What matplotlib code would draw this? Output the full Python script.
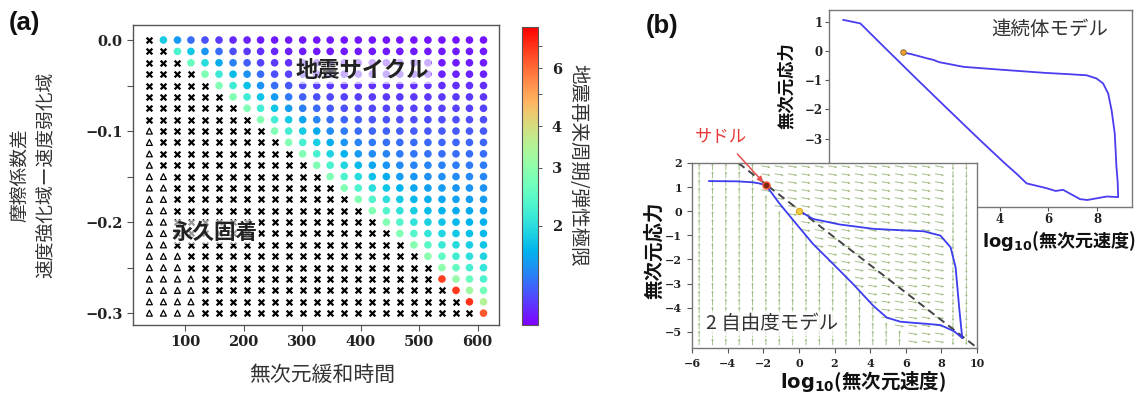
import numpy as np
import matplotlib
matplotlib.use('Agg')
import matplotlib.pyplot as plt
from matplotlib.colors import LogNorm
from matplotlib.ticker import FixedLocator, NullFormatter

plt.rcParams['font.family'] = ['Noto Sans CJK JP', 'DejaVu Sans']
plt.rcParams['axes.unicode_minus'] = True

# ---------------- panel (a) data ----------------
relax_time = [39, 63, 87, 110, 134, 158, 182, 206, 229, 253, 277, 301, 325,
              348, 372, 396, 420, 444, 467, 491, 515, 539, 563, 586, 610]
friction_diff = [0.0, -0.0125, -0.025, -0.0375, -0.05, -0.0625, -0.075, -0.0875,
                 -0.1, -0.1125, -0.125, -0.1375, -0.15, -0.1625, -0.175, -0.1875,
                 -0.2, -0.2125, -0.225, -0.2375, -0.25, -0.2625, -0.275, -0.2875, -0.3]
# per row: number of triangle columns (from left), last column index of permanent-stick (x)
n_triangles = [0, 0, 0, 0, 0, 0, 0, 0, 1, 1, 1, 1, 2, 2, 2, 2, 2, 2, 2, 3, 3, 4, 4, 4, 4]
stick_last_col = [0, 1, 2, 3, 4, 5, 6, 7, 8, 9, 10, 11, 12, 13, 14, 15, 16, 17, 18, 19,
                  20, 20, 21, 22, 23]
# recurrence interval / elastic limit for circles (from first circle column to the right edge)
period_rows = [
    [1.85, 1.54, 1.35, 1.24, 1.17, 1.12, 1.1, 1.08, 1.07, 1.07, 1.06, 1.06, 1.06, 1.06, 1.06, 1.06, 1.05, 1.05, 1.05, 1.05, 1.05, 1.05, 1.05, 1.05],
    [2.3, 1.82, 1.52, 1.34, 1.24, 1.17, 1.13, 1.11, 1.09, 1.08, 1.07, 1.07, 1.07, 1.07, 1.07, 1.07, 1.07, 1.07, 1.07, 1.07, 1.07, 1.07, 1.07],
    [2.6, 2.0, 1.64, 1.42, 1.29, 1.2, 1.16, 1.13, 1.11, 1.1, 1.09, 1.08, 1.08, 1.08, 1.08, 1.08, 1.08, 1.08, 1.08, 1.08, 1.08, 1.08],
    [2.85, 2.16, 1.74, 1.49, 1.34, 1.24, 1.19, 1.15, 1.13, 1.12, 1.11, 1.1, 1.1, 1.1, 1.1, 1.1, 1.1, 1.1, 1.1, 1.1, 1.1],
    [2.85, 2.17, 1.76, 1.51, 1.36, 1.27, 1.22, 1.18, 1.16, 1.15, 1.14, 1.13, 1.13, 1.13, 1.13, 1.13, 1.13, 1.13, 1.13, 1.13],
    [2.85, 2.19, 1.78, 1.54, 1.39, 1.3, 1.24, 1.21, 1.19, 1.18, 1.17, 1.16, 1.16, 1.16, 1.16, 1.16, 1.16, 1.16, 1.16],
    [2.85, 2.2, 1.8, 1.56, 1.41, 1.33, 1.27, 1.24, 1.22, 1.21, 1.2, 1.19, 1.19, 1.19, 1.19, 1.19, 1.19, 1.19],
    [2.85, 2.21, 1.83, 1.59, 1.45, 1.36, 1.31, 1.28, 1.26, 1.25, 1.24, 1.23, 1.23, 1.23, 1.23, 1.23, 1.23],
    [2.85, 2.23, 1.85, 1.62, 1.48, 1.4, 1.35, 1.32, 1.3, 1.29, 1.28, 1.27, 1.27, 1.27, 1.27, 1.27],
    [2.85, 2.24, 1.88, 1.65, 1.52, 1.44, 1.39, 1.36, 1.34, 1.33, 1.32, 1.31, 1.31, 1.31, 1.31],
    [2.85, 2.26, 1.9, 1.68, 1.55, 1.47, 1.43, 1.4, 1.38, 1.37, 1.36, 1.35, 1.35, 1.35],
    [2.85, 2.28, 1.93, 1.72, 1.6, 1.52, 1.47, 1.44, 1.43, 1.42, 1.41, 1.4, 1.4],
    [2.85, 2.3, 1.97, 1.76, 1.64, 1.56, 1.52, 1.49, 1.48, 1.47, 1.46, 1.45],
    [2.85, 2.32, 2.0, 1.8, 1.68, 1.61, 1.57, 1.54, 1.52, 1.51, 1.5],
    [2.85, 2.34, 2.02, 1.83, 1.72, 1.65, 1.61, 1.58, 1.56, 1.55],
    [2.85, 2.35, 2.05, 1.86, 1.75, 1.68, 1.64, 1.62, 1.6],
    [2.85, 2.37, 2.07, 1.89, 1.79, 1.72, 1.68, 1.66],
    [2.85, 2.38, 2.1, 1.93, 1.82, 1.76, 1.72],
    [2.9, 2.43, 2.14, 1.97, 1.86, 1.8],
    [2.95, 2.48, 2.2, 2.02, 1.91],
    [3.0, 2.53, 2.25, 2.08],
    [6.8, 3.1, 2.6, 2.3],
    [6.9, 3.2, 2.7],
    [7.0, 3.5],
    [6.3],
]
cbar_ticks = [2, 3, 4, 6]

# ---------------- panel (b) data ----------------
# continuum model trajectory (log10 velocity, stress)
cont_logv = [-2.45, -1.75, -0.94, 0.5, 1.8, 3.2, 4.2, 4.7, 5.1, 5.9, 6.3, 6.6, 7.3, 7.6,
             8.0, 8.4, 8.87, 8.85, 8.8, 8.73, 8.6, 8.46, 8.25, 7.98, 7.57, 6.8, 5.9, 3.9,
             2.5, 1.5, 1.25, 1.0, 0.33, 0.06]
cont_stress = [1.07, 0.95, 0.28, -0.9, -1.95, -3.07, -3.85, -4.22, -4.54, -4.7, -4.8,
               -4.76, -5.08, -5.11, -5.05, -4.99, -5.01, -4.5, -3.98, -2.83, -2.03, -1.46,
               -1.11, -0.94, -0.83, -0.79, -0.75, -0.63, -0.54, -0.38, -0.3, -0.25, -0.1, -0.06]
cont_start = (0.0, -0.02)

# 2-DOF model: branch through the saddle and branch from the fixed point
dofa_logv = [-5.04, -3.5, -2.6, -2.2, -1.84, -1.08, -0.14, 0.8, 1.93, 3.06, 4.19, 4.94,
             5.7, 6.5, 7.2, 7.95, 8.7, 9.17]
dofa_stress = [1.25, 1.24, 1.2, 1.15, 1.07, 0.31, -0.53, -1.36, -2.19, -3.03, -3.93, -4.41,
               -4.58, -4.63, -4.67, -4.72, -4.97, -5.25]
dofb_logv = [0.05, 0.8, 2.3, 4.19, 5.5, 7.0, 7.95, 8.52, 8.8, 9.0, 9.17]
dofb_stress = [0.0, -0.32, -0.55, -0.73, -0.78, -0.83, -1.01, -1.5, -2.33, -4.0, -5.25]
saddle = (-1.84, 1.07)
fixed_point = (0.02, 0.02)
steady_logv = [-3.4, 9.9]
steady_stress = [2.0, -5.6]

# direction field grid and the log-velocity where arrows turn from vertical to horizontal
field_logv = [-5.6, -4.85, -4.1, -3.35, -2.6, -1.85, -1.1, -0.35, 0.4, 1.15, 1.9, 2.65,
              3.4, 4.15, 4.9, 5.65, 6.4, 7.15, 7.9, 8.65, 9.4]
field_stress = [1.85, 1.52, 1.19, 0.86, 0.53, 0.2, -0.13, -0.46, -0.79, -1.12, -1.45,
                -1.78, -2.11, -2.44, -2.77, -3.1, -3.43, -3.76, -4.09, -4.42, -4.75,
                -5.08, -5.41]
switch_logv = [-1.9, -1.9, -1.9, -1.9, -1.62, -1.18, -0.75, -0.32, 0.12, 0.55, 0.99,
               1.42, 1.86, 2.29, 2.72, 3.16, 3.59, 4.03, 4.46, 4.89, 5.33, 5.76, 6.2]
right_vertical_from = 8.3

# ---------------- figure ----------------
W, H = 1140, 396
fig = plt.figure(figsize=(W / 100, H / 100), dpi=100)


def fx(px):
    return px / W


def fy(py):
    return 1 - py / H


def box(l, t, r, b):
    return [fx(l), fy(b), (r - l) / W, (b - t) / H]


GREY = '#555555'
TXT = '#333333'
tickfont = dict(fontfamily='DejaVu Serif', fontweight='bold')

# ---------- (a) ----------
ax = fig.add_axes(box(133, 25, 499, 325))
xs_c, ys_c, vs_c = [], [], []
xs_x, ys_x, xs_t, ys_t = [], [], [], []
for i, y in enumerate(friction_diff):
    vals = period_rows[i]
    assert len(vals) == len(relax_time) - 1 - stick_last_col[i], i
    for j, x in enumerate(relax_time):
        if j < n_triangles[i]:
            xs_t.append(x); ys_t.append(y)
        elif j <= stick_last_col[i]:
            xs_x.append(x); ys_x.append(y)
        else:
            xs_c.append(x); ys_c.append(y); vs_c.append(vals[j - stick_last_col[i] - 1])

norm = LogNorm(vmin=1.0, vmax=8.0)
sc = ax.scatter(xs_c, ys_c, c=vs_c, cmap='rainbow', norm=norm, s=30, edgecolors='none')
ax.scatter(xs_x, ys_x, marker='x', c='black', s=17, linewidths=1.6)
ax.scatter(xs_t, ys_t, marker='^', facecolors='none', edgecolors='black', s=18, linewidths=0.9)
ax.set_xlim(11, 636.5)
ax.set_ylim(-0.313, 0.0165)
ax.set_xticks([100, 200, 300, 400, 500, 600], ['100', '200', '300', '400', '500', '600'],
              fontsize=10.5, **tickfont)
ax.set_yticks([0.0, -0.1, -0.2, -0.3], ['0.0', '\u22120.1', '\u22120.2', '\u22120.3'],
              fontsize=10.5, **tickfont)
ax.yaxis.set_minor_locator(FixedLocator([-0.05, -0.15, -0.25]))
ax.tick_params(which='both', direction='out', color=GREY, length=4, width=0.8, labelcolor='#222222')
for s in ax.spines.values():
    s.set_color(GREY)
    s.set_linewidth(1.0)

ax.text(402, -0.033, '地震サイクル', fontsize=16, fontweight='bold', color='#222222',
        ha='center', va='center',
        bbox=dict(facecolor='white', alpha=0.65, edgecolor='none', pad=2))
ax.text(151, -0.211, '永久固着', fontsize=15.5, fontweight='bold', color='#222222',
        ha='center', va='center',
        bbox=dict(facecolor='white', alpha=0.6, edgecolor='none', pad=1))

cax = fig.add_axes(box(522, 27, 538, 325))
cb = fig.colorbar(sc, cax=cax)
cb.set_ticks(cbar_ticks)
cb.set_ticklabels([str(t) for t in cbar_ticks])
cb.ax.yaxis.set_minor_locator(FixedLocator([5, 7]))
cb.ax.yaxis.set_minor_formatter(NullFormatter())
for lab in cb.ax.get_yticklabels():
    lab.set_fontfamily('DejaVu Serif'); lab.set_fontweight('bold'); lab.set_fontsize(10.5)
cb.ax.tick_params(which='both', color=GREY, length=3, width=0.7, pad=7, labelcolor='#222222')
cb.outline.set_edgecolor(GREY)
cb.outline.set_linewidth(0.8)

fig.text(fx(33), fy(175), '摩擦係数差\n速度強化域ー速度弱化域', rotation=90, fontsize=13.5,
         color=TXT, ha='center', va='center', linespacing=1.25, multialignment='center')
fig.text(fx(322), fy(375), '無次元緩和時間', fontsize=15, color=TXT, ha='center', va='center')
fig.text(fx(578), fy(165), '地震再来周期/弾性極限', rotation=270, fontsize=14, color=TXT,
         ha='center', va='center')
fig.text(fx(24), fy(23), '(a)', fontsize=18.5, fontweight='bold', color='#111111',
         family=['Liberation Sans', 'DejaVu Sans'], ha='center', va='center')
fig.text(fx(662), fy(26), '(b)', fontsize=18.5, fontweight='bold', color='#111111',
         family=['Liberation Sans', 'DejaVu Sans'], ha='center', va='center')

# ---------- (b) top: continuum model ----------
axt = fig.add_axes(box(829, 10, 1132, 207))
axt.plot(cont_logv, cont_stress, color='#4a3cf0', lw=1.3)
axt.plot(*cont_start, 'o', ms=4, mfc='#f0a030', mec='#806020', mew=0.6)
axt.set_xlim(-3.04, 9.44)
axt.set_ylim(-5.35, 1.41)
axt.set_xticks([4, 6, 8], ['4', '6', '8'], fontsize=8.5, **tickfont)
axt.set_yticks([1, 0, -1, -2, -3], ['1', '0', '\u22121', '\u22122', '\u22123'],
               fontsize=8.5, **tickfont)
axt.tick_params(direction='out', color=GREY, length=3, width=0.8, pad=1.5, labelcolor='#222222')
for s in axt.spines.values():
    s.set_color('#777777')
    s.set_linewidth(1.0)
axt.text(0.73, 0.9, '連続体モデル', transform=axt.transAxes, fontsize=14, color=TXT,
         ha='center', va='center')
fig.text(fx(787), fy(86), '無次元応力', rotation=90, fontsize=12.5, fontweight='bold',
         color='#111111', ha='center', va='center')
fig.text(fx(1059), fy(241), r'$\mathbf{log_{10}}$(無次元速度)', fontsize=13, fontweight='bold',
         color='#111111', ha='center', va='center')

# ---------- (b) bottom: 2-DOF model ----------
axb = fig.add_axes(box(692, 163, 977, 348))
axb.set_zorder(3)
axb.set_facecolor('white')
axb.set_xlim(-6, 10)
axb.set_ylim(-5.67, 2)

FX, FY = np.meshgrid(field_logv, field_stress)
U = np.zeros_like(FX)
V = np.zeros_like(FY)
for r in range(len(field_stress)):
    for c in range(len(field_logv)):
        xv = field_logv[c]
        if xv >= right_vertical_from:
            U[r, c], V[r, c] = 0.0, -7.0
        elif xv < switch_logv[r]:
            U[r, c], V[r, c] = 0.0, 7.0
        else:
            U[r, c], V[r, c] = 9.0, -1.6
axb.quiver(FX, FY, U, V, angles='uv', scale_units='dots', scale=1, units='dots',
           width=0.9, headwidth=3, headlength=3, headaxislength=2.6, pivot='mid',
           color='#8cae6a', alpha=0.85, zorder=1)

axb.plot(steady_logv, steady_stress, color='#444444', lw=1.4, ls=(0, (4, 2.5)), zorder=2)
axb.plot(dofa_logv, dofa_stress, color='#3c3cf0', lw=1.3, zorder=3)
axb.plot(dofb_logv, dofb_stress, color='#3c3cf0', lw=1.3, zorder=3)
axb.plot(*saddle, 'o', ms=5, mfc='#7a2a10', mec='#ff5030', mew=1.0, zorder=4)
axb.plot(*fixed_point, 'o', ms=4.5, mfc='#e8d040', mec='#e0a020', mew=0.8, zorder=4)

axb.set_xticks([-6, -4, -2, 0, 2, 4, 6, 8, 10],
               ['\u22126', '\u22124', '\u22122', '0', '2', '4', '6', '8', '10'],
               fontsize=8, **tickfont)
axb.set_yticks([2, 1, 0, -1, -2, -3, -4, -5],
               ['2', '1', '0', '\u22121', '\u22122', '\u22123', '\u22124', '\u22125'],
               fontsize=8, **tickfont)
axb.tick_params(direction='out', color=GREY, length=3.5, width=0.8, labelcolor='#222222')
for s in axb.spines.values():
    s.set_color('#777777')
    s.set_linewidth(1.0)
axb.text(-1.5, -4.65, '2 自由度モデル', fontsize=14, color=TXT, ha='center', va='center',
         zorder=5, bbox=dict(facecolor='white', alpha=0.75, edgecolor='none', pad=1.5))
axb.annotate('サドル', xy=saddle, xytext=(fx(721), fy(136)), textcoords='figure fraction',
             fontsize=12.5, color='#e83838', ha='center', va='center', annotation_clip=False,
             arrowprops=dict(arrowstyle='-|>', color='#e85050', lw=1.1, shrinkA=6, shrinkB=3,
                             mutation_scale=8))
fig.text(fx(655), fy(250), '無次元応力', rotation=90, fontsize=14, fontweight='bold',
         color='#111111', ha='center', va='center')
fig.text(fx(863), fy(381), r'$\mathbf{log_{10}}$(無次元速度)', fontsize=14, fontweight='bold',
         color='#111111', ha='center', va='center')

fig.savefig('out.png', dpi=100)
